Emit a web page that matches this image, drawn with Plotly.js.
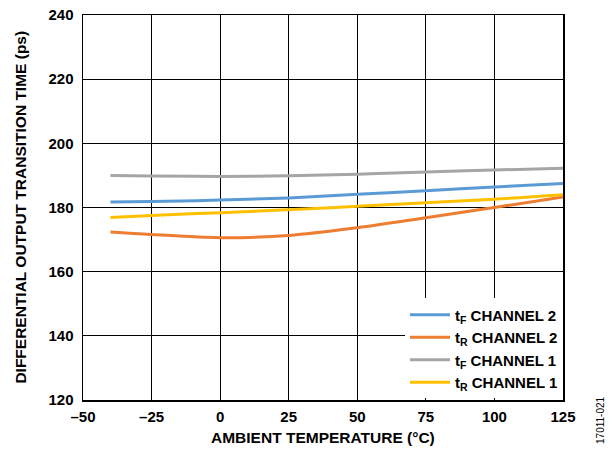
<!DOCTYPE html>
<html>
<head>
<meta charset="utf-8">
<script src="https://cdn.plot.ly/plotly-3.0.1.min.js"></script>
<style>html,body{margin:0;padding:0;background:#fff;}#chart{width:613px;height:452px;}</style>
</head>
<body>
<div id="chart"></div>
<script>
const temps = [-40, -25, 0, 25, 50, 75, 100, 125];
const tfCh2 = [181.7, 181.9, 182.3, 183.0, 184.1, 185.2, 186.4, 187.5];
const trCh2 = [172.4, 171.6, 170.6, 171.3, 173.7, 176.8, 180.0, 183.3];
const tfCh1 = [190.0, 189.8, 189.7, 189.9, 190.4, 191.1, 191.7, 192.2];
const trCh1 = [176.9, 177.5, 178.4, 179.3, 180.4, 181.5, 182.6, 184.0];
const seriesNames = ["t<sub>F</sub> CHANNEL 2", "t<sub>R</sub> CHANNEL 2", "t<sub>F</sub> CHANNEL 1", "t<sub>R</sub> CHANNEL 1"];
const seriesColors = ["#5b9bd5", "#ed7d31", "#a5a5a5", "#ffc000"];
const xTicks = [-50, -25, 0, 25, 50, 75, 100, 125];
const xTickText = ["\u201350", "\u201325", "0", "25", "50", "75", "100", "125"];
const yTicks = [120, 140, 160, 180, 200, 220, 240];

const ys = [tfCh2, trCh2, tfCh1, trCh1];
const traces = ys.map((y, i) => ({
  x: temps, y: y, type: 'scatter', mode: 'lines', name: seriesNames[i],
  line: {color: seriesColors[i], width: 3, shape: 'spline', smoothing: 1}
}));

const fam = '"Liberation Sans", Arial, sans-serif';
const bold = (s) => ({family: fam, size: s, color: '#000', weight: 'bold'});
const layout = {
  width: 613, height: 452,
  margin: {l: 83, r: 50, t: 15, b: 52},
  paper_bgcolor: '#fff', plot_bgcolor: '#fff',
  font: {family: fam, size: 14, color: '#000'},
  showlegend: true,
  legend: {
    x: 1, y: 0.004, xanchor: 'right', yanchor: 'bottom',
    bgcolor: '#fff', borderwidth: 0,
    font: bold(15),
    tracegroupgap: 0, itemwidth: 40
  },
  xaxis: {
    range: [-50, 125], tickvals: xTicks, ticktext: xTickText,
    showgrid: true, gridcolor: '#000', gridwidth: 1,
    showline: true, linecolor: '#000', linewidth: 1.5, mirror: true,
    zeroline: false, ticks: '', ticklabelstandoff: 2,
    tickfont: bold(15)
  },
  yaxis: {
    range: [120, 240], tickvals: yTicks,
    showgrid: true, gridcolor: '#000', gridwidth: 1,
    showline: true, linecolor: '#000', linewidth: 1.5, mirror: true,
    zeroline: false, ticks: '', ticklabelstandoff: 5,
    tickfont: bold(15)
  },
  annotations: [
    {text: 'AMBIENT TEMPERATURE (°C)', xref: 'paper', yref: 'paper', x: 0.5, y: -0.0987, yanchor: 'middle', showarrow: false,
     font: bold(15.5)},
    {text: 'DIFFERENTIAL OUTPUT TRANSITION TIME (ps)', xref: 'paper', yref: 'paper', x: -0.131, y: 0.5, xanchor: 'center', yanchor: 'middle', showarrow: false, textangle: -90,
     font: bold(15.5)},
    {text: '17011-021', xref: 'paper', yref: 'paper', x: 1.077, y: -0.052, yanchor: 'middle', xanchor: 'center', showarrow: false, textangle: -90,
     font: {family: fam, size: 10, color: '#000'}}
  ]
};
Plotly.newPlot('chart', traces, layout, {displayModeBar: false, staticPlot: true});
</script>
</body>
</html>
